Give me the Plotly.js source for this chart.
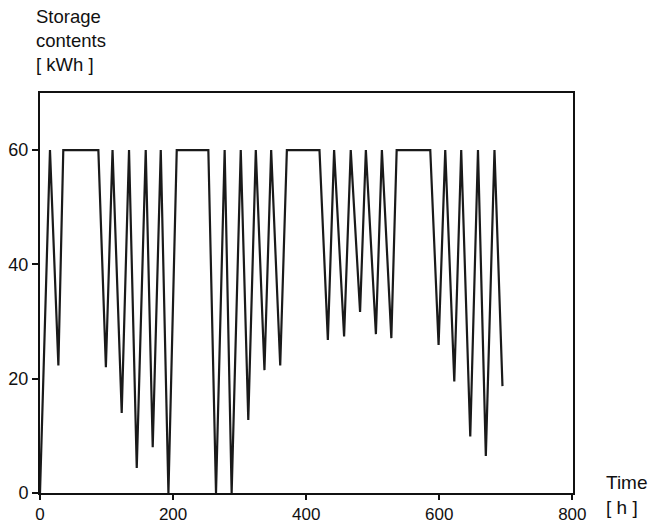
<!DOCTYPE html>
<html>
<head>
<meta charset="utf-8">
<script src="https://cdn.plot.ly/plotly-3.0.1.min.js"></script>
<style>html,body{margin:0;padding:0;background:#fff;}#chart{width:653px;height:524px;}</style>
</head>
<body>
<div id="chart"></div>
<script>
// Time [h]
const timeH = [0, 15, 27.6, 35, 87.7, 99, 109, 122.8, 133.8, 145.4, 158.9, 169.4, 181.5, 193, 205.5, 253,
  264.5, 277.5, 288, 301.7, 313, 324.3, 337.3, 347.4, 361, 371, 420,
  432.6, 442, 457, 467, 481, 489.7, 504.8, 513.8, 528, 536, 586.5,
  599, 609, 622.6, 633, 646.6, 658.2, 670, 683, 695];
// Storage contents [kWh]
const storageKWh = [0, 60, 22.3, 60, 60, 22, 60, 14, 60, 4.4, 60, 8, 60, 0, 60, 60,
  0, 60, 0, 60, 12.8, 60, 21.5, 60, 22.3, 60, 60,
  26.8, 60, 27.4, 60, 31.7, 60, 27.8, 60, 27.1, 60, 60,
  25.9, 60, 19.5, 60, 9.9, 60, 6.5, 60, 18.7];
const xTicks = [0, 200, 400, 600, 800];
const yTicks = [0, 20, 40, 60];

const trace = {
  x: timeH, y: storageKWh, type: 'scatter', mode: 'lines',
  line: {color: '#1a1a1a', width: 2.2}, hoverinfo: 'skip'
};
const fontFam = 'Liberation Sans, Arial, sans-serif';
const layout = {
  width: 653, height: 524,
  margin: {l: 40, r: 80, t: 93, b: 31},
  paper_bgcolor: '#fff', plot_bgcolor: '#fff',
  showlegend: false,
  font: {family: fontFam, color: '#111', size: 17},
  xaxis: {
    range: [0, 801], tickvals: xTicks, ticktext: xTicks.map(String),
    ticks: 'outside', ticklen: 5, tickwidth: 2, tickcolor: '#111',
    showline: true, linecolor: '#111', linewidth: 2, mirror: true,
    showgrid: false, zeroline: false, tickfont: {size: 17, color: '#111'}
  },
  yaxis: {
    range: [0, 70], tickvals: yTicks, ticktext: yTicks.map(String),
    ticks: 'outside', ticklen: 6, tickwidth: 2, tickcolor: '#111',
    showline: true, linecolor: '#111', linewidth: 2, mirror: true,
    showgrid: false, zeroline: false, tickfont: {size: 18, color: '#111'}
  },
  annotations: [
    {text: 'Storage<br>contents<br>[ kWh ]', xref: 'paper', yref: 'paper',
     x: -0.012, y: 1.222, xanchor: 'left', yanchor: 'top', align: 'left', showarrow: false,
     font: {size: 18.5, color: '#111', family: fontFam}},
    {text: 'Time<br>[ h ]', xref: 'paper', yref: 'paper',
     x: 1.058, y: -0.005, xanchor: 'left', yanchor: 'middle', align: 'left', showarrow: false,
     font: {size: 19, color: '#111', family: fontFam}}
  ]
};
Plotly.newPlot('chart', [trace], layout, {staticPlot: true, displayModeBar: false});
</script>
</body>
</html>
